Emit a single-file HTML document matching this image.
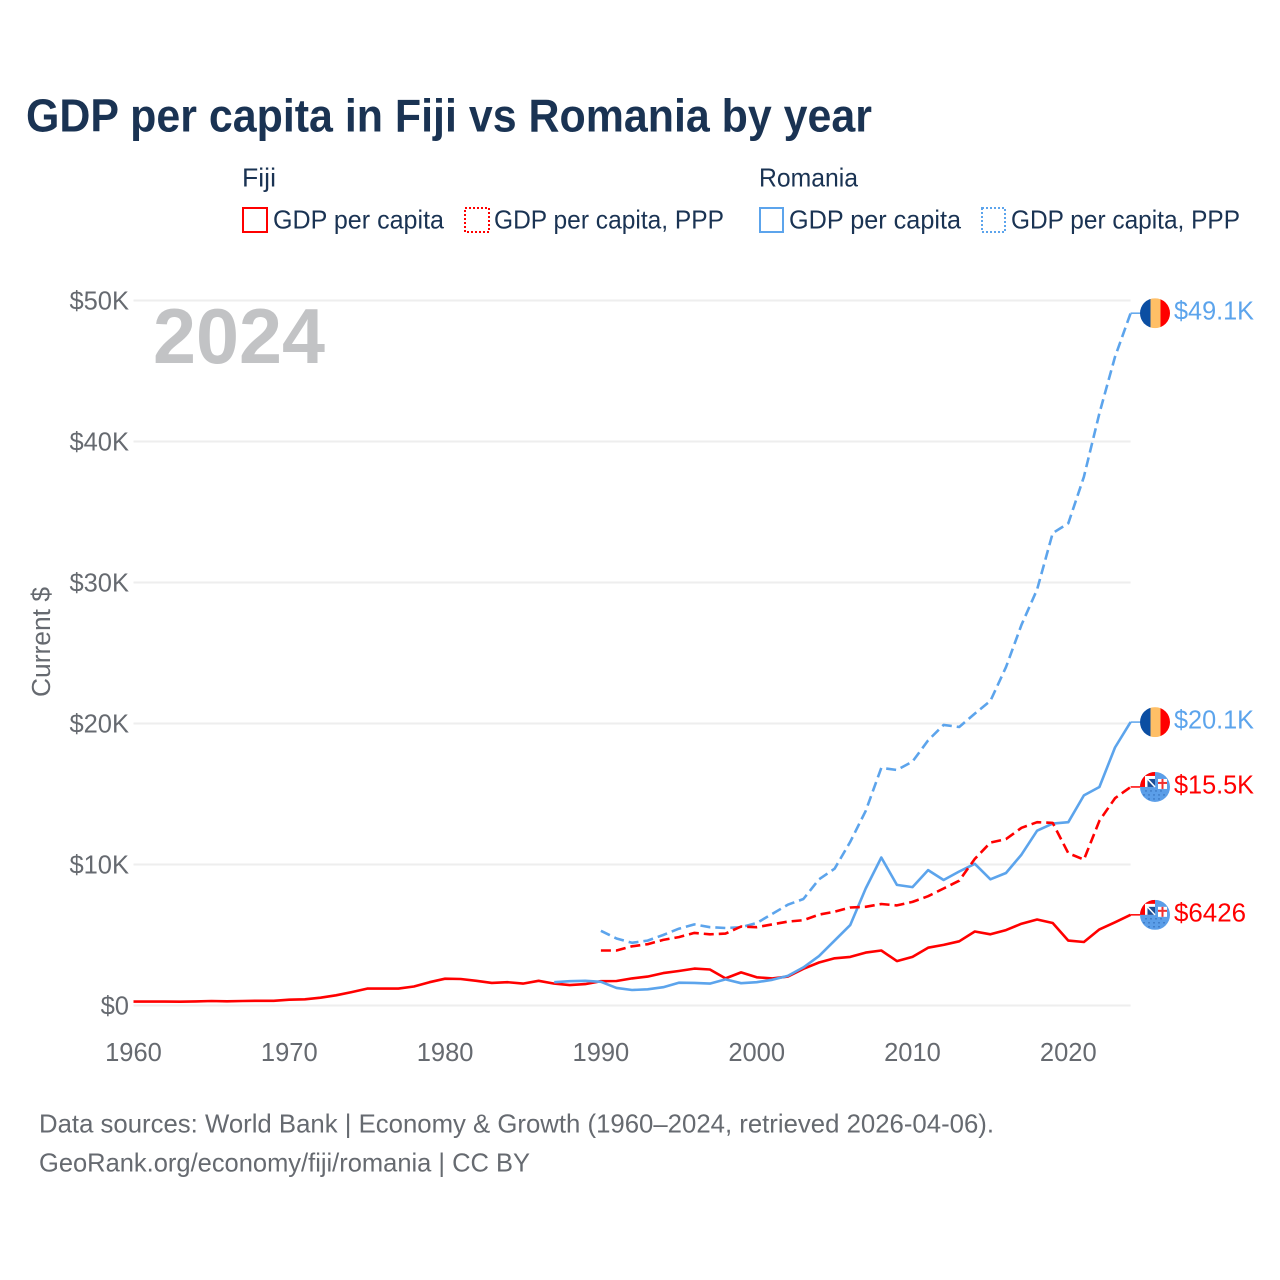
<!DOCTYPE html>
<html lang="en">
<head>
<meta charset="utf-8">
<title>GDP per capita in Fiji vs Romania by year</title>
<style>
html,body{margin:0;padding:0;background:#fff;}
svg{display:block;font-family:"Liberation Sans",sans-serif;}
</style>
</head>
<body>
<svg id="chart" xmlns="http://www.w3.org/2000/svg" width="1280" height="1280" viewBox="0 0 1280 1280">
  <defs>
    <clipPath id="flag-clip"><circle cx="0" cy="0" r="15"/></clipPath>
    <symbol id="flag-romania" overflow="visible">
      <g clip-path="url(#flag-clip)">
        <rect x="-15" y="-15" width="10.5" height="30" fill="#0b4ea2"/>
        <rect x="-4.5" y="-15" width="10" height="30" fill="#ffbf66"/>
        <rect x="5.5" y="-15" width="9.5" height="30" fill="#ff0000"/>
      </g>
    </symbol>
    <symbol id="flag-fiji" overflow="visible">
      <g clip-path="url(#flag-clip)">
        <rect x="-15" y="-15" width="30" height="30" fill="#5b9ee8"/>
        <rect x="-15" y="-15" width="15" height="15" fill="#ff0000"/>
        <rect x="-10" y="-11" width="10" height="11" fill="#fff"/>
        <rect x="-7.5" y="-8" width="7.5" height="8" fill="#1c4e96"/>
        <path d="M-7.5 -8 L0 0" stroke="#fff" stroke-width="1.5"/>
        <rect x="3" y="-8" width="9" height="10" fill="#fff"/>
        <rect x="6.5" y="-8" width="2" height="10" fill="#f03030"/>
        <rect x="3" y="-5" width="9" height="2" fill="#f03030"/>
        <g fill="#2a63ad">
          <circle cx="-9" cy="4" r=".7"/><circle cx="-4" cy="4" r=".7"/><circle cx="1" cy="4" r=".7"/><circle cx="6" cy="4" r=".7"/>
          <circle cx="-11" cy="8" r=".7"/><circle cx="-6" cy="8" r=".7"/><circle cx="-1" cy="8" r=".7"/><circle cx="4" cy="8" r=".7"/><circle cx="9" cy="8" r=".7"/>
          <circle cx="-6" cy="12" r=".7"/><circle cx="-1" cy="12" r=".7"/><circle cx="4" cy="12" r=".7"/>
        </g>
      </g>
    </symbol>
  </defs>

  <text x="26" y="131.5" font-size="46" font-weight="700" fill="#1a3353" textLength="846" lengthAdjust="spacingAndGlyphs">GDP per capita in Fiji vs Romania by year</text>

  <g font-size="26" fill="#1a3353">
    <text x="242" y="186.5" textLength="34" lengthAdjust="spacingAndGlyphs">Fiji</text>
    <text x="759" y="186.5" textLength="99" lengthAdjust="spacingAndGlyphs">Romania</text>
    <rect x="243" y="208" width="24" height="24" fill="none" stroke="#ff0000" stroke-width="2"/>
    <text x="273" y="228.5" textLength="171" lengthAdjust="spacingAndGlyphs">GDP per capita</text>
    <rect x="465" y="208" width="24" height="24" fill="none" stroke="#ff0000" stroke-width="2" stroke-dasharray="2 2"/>
    <text x="494" y="228.5" textLength="230" lengthAdjust="spacingAndGlyphs">GDP per capita, PPP</text>
    <rect x="760" y="208" width="23" height="24" fill="none" stroke="#5ca4ec" stroke-width="2"/>
    <text x="789" y="228.5" textLength="172" lengthAdjust="spacingAndGlyphs">GDP per capita</text>
    <rect x="982" y="208" width="23" height="24" fill="none" stroke="#5ca4ec" stroke-width="2" stroke-dasharray="2 2"/>
    <text x="1011" y="228.5" textLength="229" lengthAdjust="spacingAndGlyphs">GDP per capita, PPP</text>
  </g>

  <g id="grid"></g>
  <g id="y-ticks"></g>
  <g id="x-ticks"></g>

  <text transform="translate(50,697) rotate(-90)" font-size="25.5" fill="#666a70" textLength="110" lengthAdjust="spacingAndGlyphs">Current $</text>
  <text x="153" y="363" font-size="78" font-weight="700" fill="#c2c3c5" textLength="172" lengthAdjust="spacingAndGlyphs">2024</text>

  <g id="series"></g>
  <g id="end-labels"></g>

  <g font-size="26" fill="#666a70">
    <text x="39" y="1132.5" textLength="955" lengthAdjust="spacingAndGlyphs">Data sources: World Bank | Economy &amp; Growth (1960–2024, retrieved 2026-04-06).</text>
    <text x="39" y="1171.5" textLength="491" lengthAdjust="spacingAndGlyphs">GeoRank.org/economy/fiji/romania | CC BY</text>
  </g>
</svg>
<script>
const yTickValues = [0, 10, 20, 30, 40, 50];
const yTickLabels = ["$0", "$10K", "$20K", "$30K", "$40K", "$50K"];
const xTickYears = [1960, 1970, 1980, 1990, 2000, 2010, 2020];

const fijiGdpStart = 1960;
const fijiGdp = [0.28,0.28,0.28,0.27,0.29,0.32,0.30,0.32,0.33,0.33,0.41,0.44,0.55,0.72,0.95,1.2,1.2,1.2,1.35,1.65,1.9,1.88,1.75,1.6,1.65,1.55,1.75,1.55,1.45,1.52,1.72,1.74,1.92,2.05,2.3,2.45,2.62,2.55,1.92,2.35,2.0,1.92,2.05,2.6,3.05,3.35,3.45,3.75,3.9,3.15,3.45,4.1,4.3,4.55,5.25,5.05,5.35,5.8,6.1,5.85,4.6,4.5,5.4,5.9,6.43];

const romaniaGdpStart = 1987;
const romaniaGdp = [1.65,1.72,1.75,1.68,1.25,1.1,1.15,1.3,1.62,1.6,1.55,1.85,1.58,1.65,1.82,2.1,2.7,3.5,4.6,5.7,8.3,10.5,8.55,8.4,9.6,8.9,9.5,10.05,8.95,9.4,10.7,12.4,12.9,13.0,14.9,15.5,18.3,20.1];

const romaniaPppStart = 1990;
const romaniaPpp = [5.3,4.75,4.45,4.6,5.0,5.45,5.75,5.55,5.5,5.55,5.85,6.5,7.15,7.55,8.95,9.7,11.6,13.8,16.85,16.7,17.3,18.8,19.9,19.75,20.7,21.6,24.0,27.0,29.5,33.5,34.2,37.5,42.0,46.0,49.1];

const fijiPppStart = 1990;
const fijiPpp = [3.9,3.9,4.2,4.35,4.65,4.85,5.15,5.05,5.1,5.6,5.55,5.75,5.95,6.05,6.45,6.65,6.95,7.0,7.2,7.1,7.35,7.75,8.3,8.85,10.4,11.55,11.8,12.6,13.0,12.95,10.8,10.35,13.1,14.7,15.5];

const endLabels = ["$6426", "$20.1K", "$49.1K", "$15.5K"];

const SVG_NS = "http://www.w3.org/2000/svg";
const RED = "#ff0000";
const BLUE = "#5ca4ec";
const xAxis = year => 133.5 + (year - 1960) * (1130.6 - 133.5) / 64;
const yAxis = value => 1005.5 - value * (1005.5 - 300.5) / 50;

function make(tag, parent, attrs) {
  const el = document.createElementNS(SVG_NS, tag);
  Object.keys(attrs).forEach(k => el.setAttribute(k, attrs[k]));
  parent.appendChild(el);
  return el;
}

const gridG = document.getElementById("grid");
const yG = document.getElementById("y-ticks");
yTickValues.forEach((v, i) => {
  const line = make("line", gridG, {x1: xAxis(1960), x2: xAxis(2024), y1: yAxis(v), y2: yAxis(v), stroke: "#eeeeee", "stroke-width": 2});
  
  
  const t = make("text", yG, {x: 129, y: yAxis(v) + 9, "text-anchor": "end", "font-size": 25.5, fill: "#666a70"});
  
  
  t.textContent = yTickLabels[i];
});

const xG = document.getElementById("x-ticks");
xTickYears.forEach(year => {
  const t = make("text", xG, {x: xAxis(year), y: 1061, "text-anchor": "middle", "font-size": 25.5, fill: "#666a70"});
  
  
  t.textContent = String(year);
});

function points(start, values) {
  return values.map((v, i) => xAxis(start + i).toFixed(1) + "," + yAxis(v).toFixed(1)).join(" ");
}

const seriesG = document.getElementById("series");
const labelsG = document.getElementById("end-labels");

function drawSeries(name, start, values, color, dashed, flag, label, labelWidth) {
  const line = make("polyline", seriesG, {points: points(start, values), fill: "none", stroke: color, "stroke-width": 2.6, "stroke-linejoin": "round"});
  if (dashed) line.setAttribute("stroke-dasharray", "10 5");
  
  
  const last = values[values.length - 1];
  const y = yAxis(last);
  const stub = make("line", seriesG, {x1: xAxis(2024), x2: 1140, y1: y, y2: y, stroke: color, "stroke-width": 1.5});
  
  
  const use = make("use", labelsG, {href: "#" + flag, x: 1155, y: y});
  
  
  const t = make("text", labelsG, {x: 1174, y: y + 6.5, "font-size": 26, fill: color, textLength: labelWidth, lengthAdjust: "spacingAndGlyphs"});
  
  
  t.textContent = label;
}

drawSeries("fiji-gdp", fijiGdpStart, fijiGdp, RED, false, "flag-fiji", endLabels[0], 72);
drawSeries("romania-gdp", romaniaGdpStart, romaniaGdp, BLUE, false, "flag-romania", endLabels[1], 80);
drawSeries("romania-ppp", romaniaPppStart, romaniaPpp, BLUE, true, "flag-romania", endLabels[2], 80);
drawSeries("fiji-ppp", fijiPppStart, fijiPpp, RED, true, "flag-fiji", endLabels[3], 80);
</script>
</body>
</html>
